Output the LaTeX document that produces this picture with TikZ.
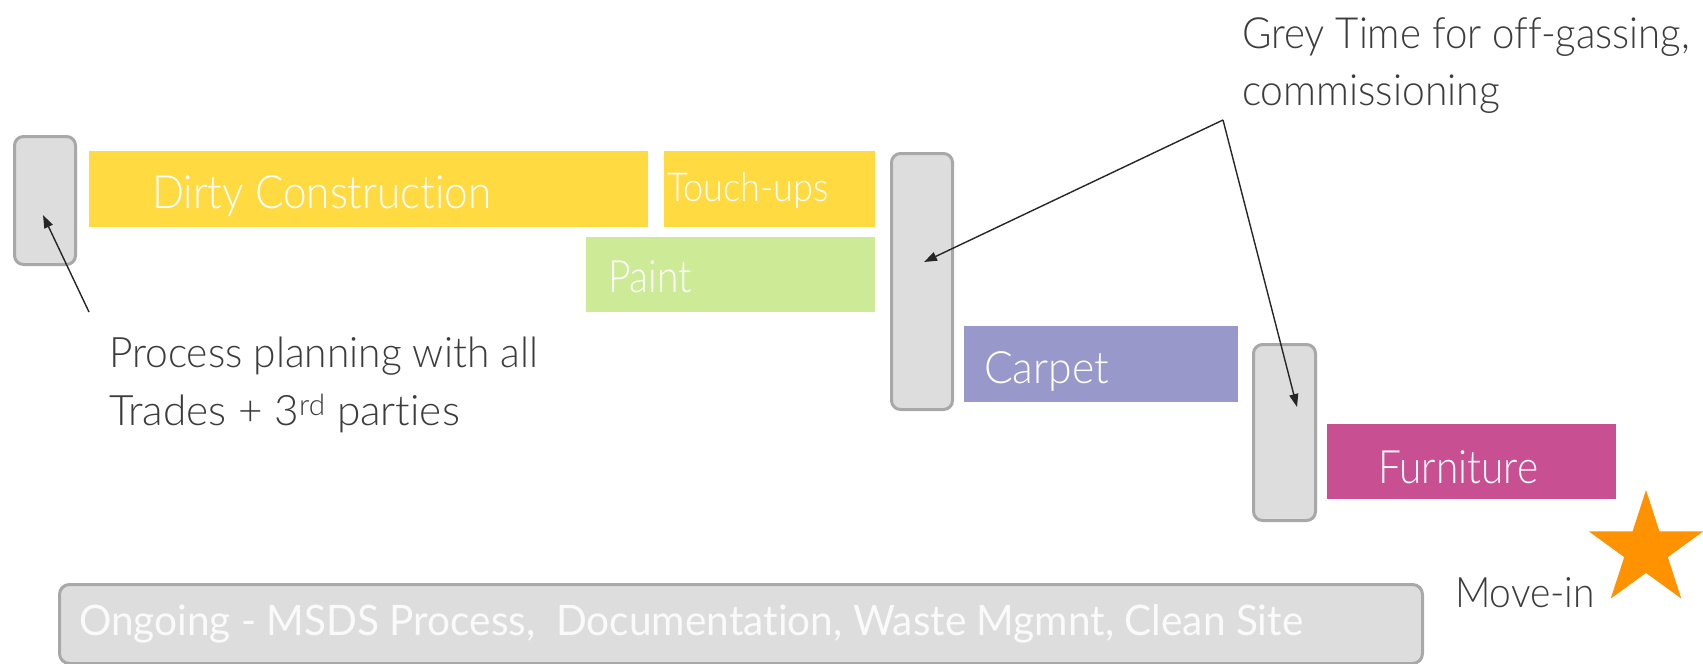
\documentclass[tikz,border=0pt]{standalone}
\usepackage{fontspec}
\IfFontExistsTF{Lato Light}{\setmainfont{Lato Light}[Ligatures=NoCommon]}{\setmainfont{Lato}[Ligatures=NoCommon]}
\newfontfamily\latoreg{Lato}[Ligatures=NoCommon]
\usetikzlibrary{arrows.meta,shapes.geometric}
\definecolor{cyel}{RGB}{255,218,64}
\definecolor{cgreen}{RGB}{205,235,150}
\definecolor{cpurple}{RGB}{152,152,203}
\definecolor{cmag}{RGB}{200,80,146}
\definecolor{gfill}{RGB}{221,221,221}
\definecolor{gborder}{RGB}{168,168,168}
\definecolor{corange}{RGB}{255,146,0}
\definecolor{notec}{RGB}{60,60,60}
\definecolor{ongtext}{RGB}{250,250,250}
\newcommand\fitw[3]{\resizebox{#1pt}{\height}{\fontsize{#2pt}{#2pt}\selectfont #3}}
\begin{document}
\begin{tikzpicture}[x=1pt,y=-1pt,
  bar/.style={draw=none, inner sep=0pt, outer sep=0pt, anchor=north west},
  greybox/.style={draw=gborder, fill=gfill, line width=3pt, rounded corners=9pt, inner sep=0pt, anchor=north west},
  lbl/.style={anchor=base west, inner sep=0pt, outer sep=0pt, text=white},
  note/.style={anchor=base west, inner sep=0pt, outer sep=0pt, text=notec},
  arr/.style={-{Triangle[length=13pt,width=9pt]}, line width=1.4pt, draw=black!85}]
\useasboundingbox (0,0) rectangle (1703,664);
\fill[white] (0,0) rectangle (1703,664);

% grey process boxes
\node[greybox, minimum width=61pt, minimum height=128pt] (g1) at (13,135) {};
\node[greybox, minimum width=61pt, minimum height=256pt] (g2) at (890,152) {};
\node[greybox, minimum width=62pt, minimum height=176pt] (g3) at (1252,343) {};

% bars
\node[bar, fill=cyel, minimum width=559pt, minimum height=76pt] (dirty) at (89,151) {};
\node[bar, fill=cyel, minimum width=211pt, minimum height=76pt] (touch) at (664,151) {};
\node[bar, fill=cgreen, minimum width=289pt, minimum height=75pt] (paint) at (586,237) {};
\node[bar, fill=cpurple, minimum width=274pt, minimum height=76pt] (carpet) at (964,326) {};
\node[bar, fill=cmag, minimum width=289pt, minimum height=75pt] (furn) at (1327,424) {};

% bar labels
\node[lbl] (dirtyt) at (152,208) {\fitw{339}{46}{Dirty Construction}};
\node[lbl] (toucht) at (667,201) {\fitw{162}{40}{Touch-ups}};
\node[lbl] (paintt) at (608,292) {\fitw{84}{44.6}{Paint}};
\node[lbl] (carpett) at (984,383) {\fitw{125}{44.6}{Carpet}};
\node[lbl] (furnt) at (1378,483) {\fitw{160}{46}{Furniture}};

% ongoing bar
\node[greybox, minimum width=1363pt, minimum height=79pt, rounded corners=10pt] (ong) at (58,583) {};
\node[lbl, text=ongtext] (ongt) at (79,635) {\fitw{1224}{42}{\latoreg Ongoing - MSDS Process,\ \ Documentation, Waste Mgmnt, Clean Site}};

% notes
\node[note] (plan1) at (109,367) {\fitw{429}{42}{Process planning with all}};
\node[note] (plan2) at (109,425) {\fitw{351}{42}{Trades + 3\textsuperscript{rd} parties}};
\node[note] (grey1) at (1242,48) {\fitw{448}{43}{Grey Time for off-gassing,}};
\node[note] (grey2) at (1242,105) {\fitw{258}{43}{commissioning}};
\node[note] (movein) at (1455,607) {\fitw{140}{42}{Move-in}};

% star
\node[star, star points=5, star point ratio=2.618, minimum size=120pt, inner sep=0pt, fill=corange, draw=none] (star) at (1646,550) {};

% arrows
\coordinate (a1s) at (89,312);
\coordinate (a1e) at (43,215);
\coordinate (gv) at (1223,120);
\coordinate (g2e) at (924,262);
\coordinate (g3e) at (1297,407);
\draw[arr] (a1s) -- (a1e);
\draw[arr] (gv) -- (g2e);
\draw[arr] (gv) -- (g3e);
\end{tikzpicture}
\end{document}
